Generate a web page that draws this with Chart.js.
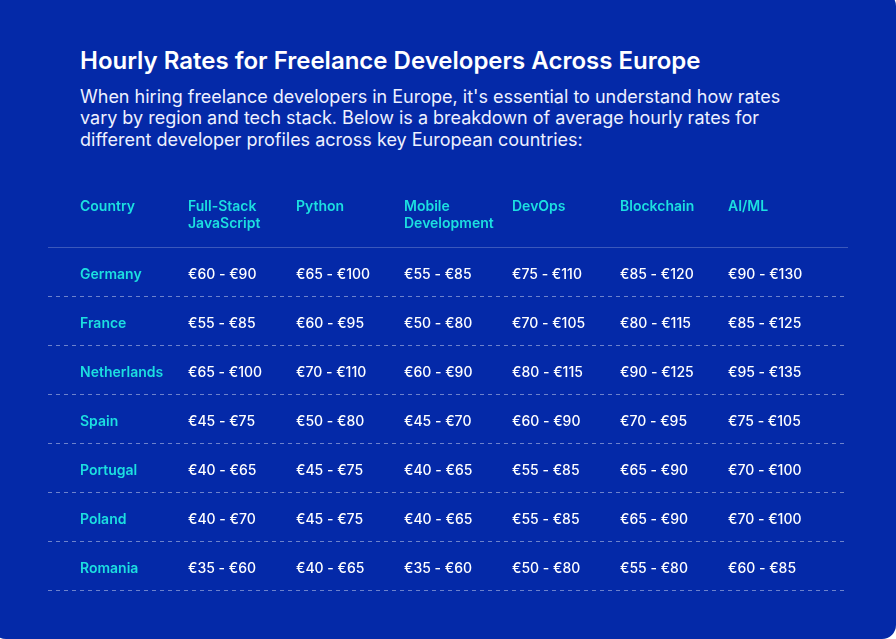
<!DOCTYPE html>
<html>
<head>
<meta charset="utf-8">
<script src="https://cdn.jsdelivr.net/npm/chart.js@4.4.1/dist/chart.umd.min.js"></script>
<style>
  html, body { margin: 0; padding: 0; background: #ffffff; }
  #wrap { position: relative; width: 896px; height: 639px; overflow: hidden; background: #ffffff; }
  #card { position: absolute; left: -8px; top: -8px; width: 904px; height: 647px; background: #0429A8; border-radius: 14px; }
  #title { position: absolute; left: 80px; top: 46px; margin: 0; font-family: Inter, sans-serif; font-weight: 600; font-size: 24px; line-height: 29px; color: #ffffff; white-space: nowrap; }
  #sub { position: absolute; left: 80px; top: 85.5px; margin: 0; font-family: Inter, sans-serif; font-weight: 400; font-size: 18px; line-height: 21.7px; color: #eef1ff; white-space: nowrap; }
  #chartBox { position: absolute; left: 0; top: 0; width: 896px; height: 639px; }
</style>
</head>
<body>
<div id="wrap">
  <div id="card"></div>
  <h1 id="title">Hourly Rates for Freelance Developers Across Europe</h1>
  <p id="sub">When hiring freelance developers in Europe, it's essential to understand how rates<br>vary by region and tech stack. Below is a breakdown of average hourly rates for<br>different developer profiles across key European countries:</p>
  <div id="chartBox"><canvas id="c"></canvas></div>
</div>
<script>
// ---- data ----
const headers = [["Country"], ["Full-Stack", "JavaScript"], ["Python"], ["Mobile", "Development"], ["DevOps"], ["Blockchain"], ["AI/ML"]];
const countries = ["Germany", "France", "Netherlands", "Spain", "Portugal", "Poland", "Romania"];
const fullStackJS = ["€60 - €90", "€55 - €85", "€65 - €100", "€45 - €75", "€40 - €65", "€40 - €70", "€35 - €60"];
const python      = ["€65 - €100", "€60 - €95", "€70 - €110", "€50 - €80", "€45 - €75", "€45 - €75", "€40 - €65"];
const mobileDev   = ["€55 - €85", "€50 - €80", "€60 - €90", "€45 - €70", "€40 - €65", "€40 - €65", "€35 - €60"];
const devOps      = ["€75 - €110", "€70 - €105", "€80 - €115", "€60 - €90", "€55 - €85", "€55 - €85", "€50 - €80"];
const blockchain  = ["€85 - €120", "€80 - €115", "€90 - €125", "€70 - €95", "€65 - €90", "€65 - €90", "€55 - €80"];
const aiml        = ["€90 - €130", "€85 - €125", "€95 - €135", "€75 - €105", "€70 - €100", "€70 - €100", "€60 - €85"];

const columns = [countries, fullStackJS, python, mobileDev, devOps, blockchain, aiml];

// build cell points: x = column index, y = row index
const cells = [];
columns.forEach((col, ci) => {
  col.forEach((txt, ri) => cells.push({ x: ci, y: ri, text: txt, first: ci === 0 }));
});

const COLW = 108;        // px per column
const AREA_W = 800;      // chart area width
const CYAN = '#1CDFE0';

const tablePlugin = {
  id: 'tableText',
  beforeDatasetsDraw(chart) {
    const ctx = chart.ctx;
    const y = chart.scales.y;
    const area = chart.chartArea;
    ctx.save();
    ctx.strokeStyle = 'rgba(255,255,255,0.22)';
    ctx.lineWidth = 1;
    ctx.beginPath();
    const top = Math.round(y.getPixelForValue(-0.5)) + 0.5;
    ctx.moveTo(area.left, top); ctx.lineTo(area.right, top); ctx.stroke();
    ctx.strokeStyle = 'rgba(255,255,255,0.42)';
    ctx.setLineDash([4, 4]);
    for (let r = 0; r < countries.length; r++) {
      const py = Math.round(y.getPixelForValue(r + 0.5)) + 0.5;
      ctx.beginPath(); ctx.moveTo(area.left, py); ctx.lineTo(area.right, py); ctx.stroke();
    }
    ctx.restore();
  },
  afterDatasetsDraw(chart) {
    const ctx = chart.ctx;
    const xs = chart.scales.x;
    const ys = chart.scales.y;
    ctx.save();
    ctx.textAlign = 'left';
    ctx.textBaseline = 'alphabetic';
    ctx.fillStyle = CYAN;
    ctx.font = '600 14px Inter';
    const headBase = ys.getPixelForValue(-0.5) - 36;
    headers.forEach((lines, ci) => {
      const px = xs.getPixelForValue(ci);
      lines.forEach((ln, li) => ctx.fillText(ln, px, headBase + li * 17));
    });
    const meta = chart.getDatasetMeta(0);
    meta.data.forEach((el, i) => {
      const d = cells[i];
      if (d.first) { ctx.fillStyle = CYAN; ctx.font = '600 14px Inter'; }
      else { ctx.fillStyle = '#ffffff'; ctx.font = '500 14px Inter'; }
      ctx.fillText(d.text, el.x, el.y + 7);
    });
    ctx.restore();
  }
};

const xMin = -32 / COLW;
new Chart(document.getElementById('c'), {
  type: 'scatter',
  data: { datasets: [{ data: cells, pointRadius: 0, pointHoverRadius: 0 }] },
  options: {
    responsive: true,
    maintainAspectRatio: false,
    animation: false,
    events: [],
    layout: { padding: { left: 48, right: 48, top: 247, bottom: 49 } },
    plugins: { legend: { display: false }, tooltip: { enabled: false }, title: { display: false } },
    scales: {
      x: { type: 'linear', display: false, min: xMin, max: xMin + AREA_W / COLW },
      y: { type: 'linear', display: false, reverse: true, min: -0.5, max: countries.length - 0.5 }
    }
  },
  plugins: [tablePlugin]
});
</script>
</body>
</html>
